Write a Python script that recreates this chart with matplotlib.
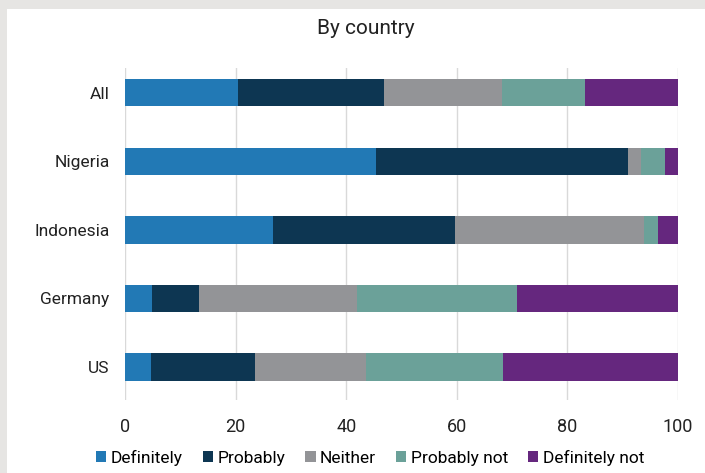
import numpy as np
import matplotlib
matplotlib.use('Agg')
from matplotlib import pyplot as plt
from matplotlib.patches import Rectangle

plt.rcParams['font.family'] = ['Roboto', 'DejaVu Sans']

countries = ['All', 'Nigeria', 'Indonesia', 'Germany', 'US']
responses = ['Definitely', 'Probably', 'Neither', 'Probably not', 'Definitely not']
colors = ['#2279b5', '#0d3652', '#939497', '#6ba199', '#65277e']

# shares in %, one list per response, in country order
definitely = [20.4, 45.3, 26.7, 4.8, 4.7]
probably = [26.4, 45.7, 33.0, 8.6, 18.8]
neither = [21.3, 2.3, 34.2, 28.6, 20.0]
probably_not = [15.1, 4.3, 2.5, 28.9, 24.9]
definitely_not = [16.8, 2.4, 3.6, 29.1, 31.6]

series = [definitely, probably, neither, probably_not, definitely_not]

fig = plt.figure(figsize=(7.05, 4.73), dpi=100)
fig.patch.set_facecolor('#e6e5e3')
# white panel
fig.add_artist(Rectangle((7 / 705, 0), 1, 1 - 9 / 473, transform=fig.transFigure,
                         facecolor='white', edgecolor='none', zorder=0))

ax = fig.add_axes([125 / 705, 1 - 400 / 473, 553 / 705, 332 / 473])
ax.set_facecolor('none')

y = np.arange(len(countries))
left = np.zeros(len(countries))
for vals, name, c in zip(series, responses, colors):
    ax.barh(y, vals, left=left, height=0.4, color=c, label=name, zorder=3)
    left += np.array(vals)

ax.set_xlim(0, 100)
ax.set_ylim(4.48, -0.36)
ax.set_yticks(y)
ax.set_yticklabels(countries, fontsize=12.5, color='#222222')
ax.set_xticks([0, 20, 40, 60, 80, 100])
ax.tick_params(axis='x', labelsize=13, colors='#222222', length=0, pad=13)
ax.tick_params(axis='y', length=0, pad=11)
ax.grid(axis='x', color='#d9d9d9', linewidth=1, zorder=0)
for s in ax.spines.values():
    s.set_visible(False)

fig.text(366 / 705, 1 - 28 / 473, 'By country', ha='center', va='center',
         fontsize=15, color='#222222')

fig.legend(loc='center', bbox_to_anchor=(370 / 705, 1 - 458 / 473), ncol=5,
           frameon=False, fontsize=12.5, handlelength=0.6, handleheight=0.6,
           handletextpad=0.25, columnspacing=1.15)

fig.savefig('out.png', dpi=100, facecolor=fig.get_facecolor())
